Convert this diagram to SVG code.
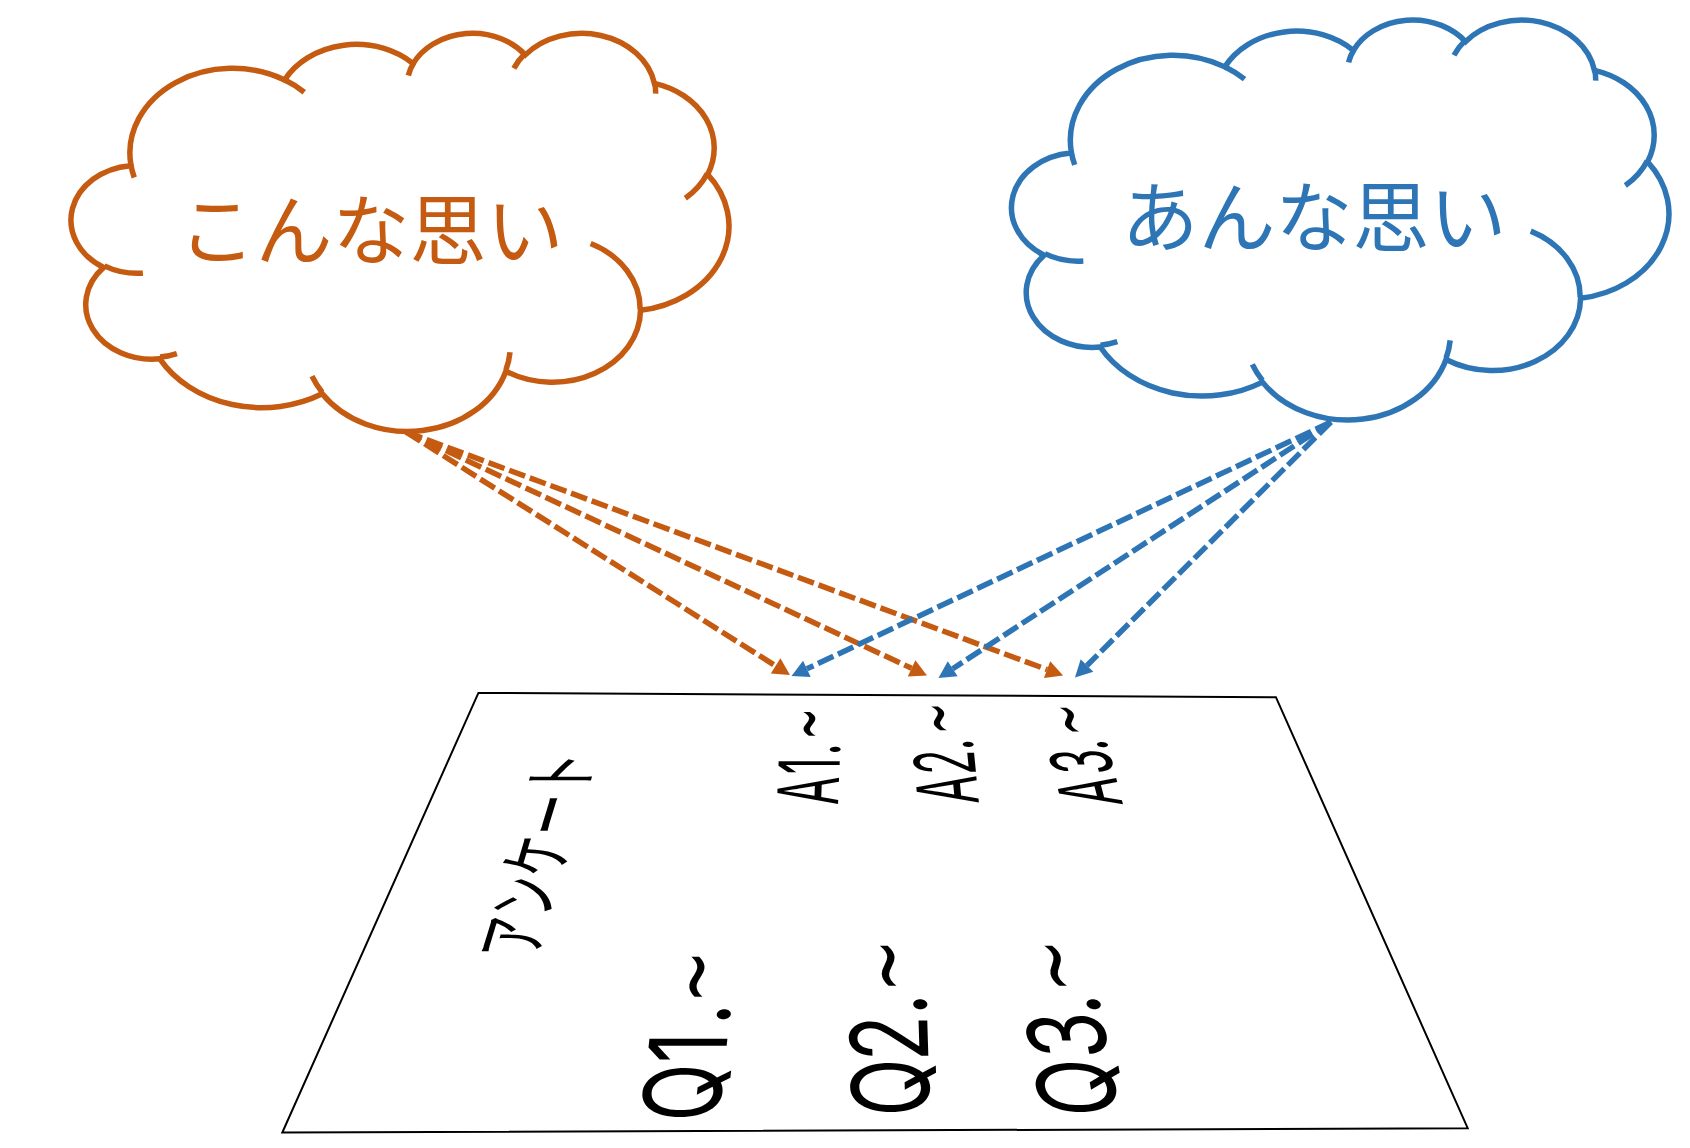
<svg xmlns="http://www.w3.org/2000/svg" width="1690" height="1148" viewBox="0 0 1690 1148">
<style>
  .outline { fill: #FFFFFF; stroke-width: 5.5; vector-effect: non-scaling-stroke; stroke-linejoin: miter; }
  .inner { fill: none; stroke-width: 5.5; vector-effect: non-scaling-stroke; stroke-linecap: butt; }
  .orange .outline, .orange .inner { stroke: #C55A11; }
  .blue .outline, .blue .inner { stroke: #2E75B6; }
  .cloudtext { font-family: "Noto Sans CJK JP", "Noto Sans", sans-serif; font-size: 77px; text-anchor: middle; }
  .orange .cloudtext { fill: #C55A11; }
  .blue .cloudtext { fill: #2E75B6; }
  .conn { fill: none; stroke-width: 5.5; stroke-dasharray: 17 5; stroke-linecap: butt; }
  .conn-o { stroke: #C55A11; marker-end: url(#arrO); }
  .conn-b { stroke: #2E75B6; marker-end: url(#arrB); }
  .lbl { font-family: Inter, "Noto Sans", "Noto Sans CJK JP", sans-serif; fill: #000000; text-anchor: middle; }
  .tilde { font-family: "DejaVu Sans", sans-serif; }
  .kana { font-family: "Noto Sans CJK JP", sans-serif; fill: #000000; }
</style>
<defs>
  <marker id="arrO" markerUnits="userSpaceOnUse" viewBox="0 0 17 18" markerWidth="17" markerHeight="18" refX="0" refY="9" orient="auto" overflow="visible">
    <path d="M0,0 L17,9 L0,18 Z" fill="#C55A11"/>
  </marker>
  <marker id="arrB" markerUnits="userSpaceOnUse" viewBox="0 0 17 18" markerWidth="17" markerHeight="18" refX="0" refY="9" orient="auto" overflow="visible">
    <path d="M0,0 L17,9 L0,18 Z" fill="#2E75B6"/>
  </marker>
</defs>

<g id="sheet">
  <polygon points="478.4,692.9 1275.9,697.2 1467.7,1128.2 282.3,1132.6" fill="#FFFFFF" stroke="#000000" stroke-width="2"/>
</g>

<g id="cloud-konna" class="orange">
  <g transform="translate(71.5,32) scale(0.015212,0.009214)">
    <path class="outline" d="M3900,14370 A6753,9190 0 0 1 14005,5202 A5333,7267 0 0 1 22456,3432 A4365,5945 0 0 1 29833,2481 A4857,6595 0 0 1 38318,5576 A5333,7273 0 0 1 41819,15460 A6775,9220 0 0 1 37405,30204 A5785,7867 0 0 1 28556,36814 A6752,9215 0 0 1 16481,39265 A7720,10543 0 0 1 5805,35471 A4360,5918 0 0 1 2114,25549 A4345,5945 0 0 1 3864,14505 Z"/>
    <path class="inner" d="M4693,26177 A4345,5945 0 0 1 2160,25380 M6928,34899 A4360,5918 0 0 1 5820,35281 M16478,39090 A6752,9215 0 0 1 15810,37350 M28827,34751 A6752,9215 0 0 1 28560,36660 M34129,22954 A5785,7867 0 0 1 37380,30090 M41798,15354 A5333,7273 0 0 1 40350,18030 M38324,5426 A4857,6595 0 0 1 38400,6690 M29078,3952 A4857,6595 0 0 1 29820,2340 M22141,4720 A4365,5945 0 0 1 22500,3330 M14000,5192 A6753,9190 0 0 1 15300,6540 M4127,15789 A6753,9190 0 0 1 3900,14370"/>
  </g>
  <text class="cloudtext" x="371" y="259">こんな思い</text>
</g>

<g id="cloud-anna" class="blue">
  <g transform="translate(1012,18.7) scale(0.0152,0.009256)">
    <path class="outline" d="M3900,14370 A6753,9190 0 0 1 14005,5202 A5333,7267 0 0 1 22456,3432 A4365,5945 0 0 1 29833,2481 A4857,6595 0 0 1 38318,5576 A5333,7273 0 0 1 41819,15460 A6775,9220 0 0 1 37405,30204 A5785,7867 0 0 1 28556,36814 A6752,9215 0 0 1 16481,39265 A7720,10543 0 0 1 5805,35471 A4360,5918 0 0 1 2114,25549 A4345,5945 0 0 1 3864,14505 Z"/>
    <path class="inner" d="M4693,26177 A4345,5945 0 0 1 2160,25380 M6928,34899 A4360,5918 0 0 1 5820,35281 M16478,39090 A6752,9215 0 0 1 15810,37350 M28827,34751 A6752,9215 0 0 1 28560,36660 M34129,22954 A5785,7867 0 0 1 37380,30090 M41798,15354 A5333,7273 0 0 1 40350,18030 M38324,5426 A4857,6595 0 0 1 38400,6690 M29078,3952 A4857,6595 0 0 1 29820,2340 M22141,4720 A4365,5945 0 0 1 22500,3330 M14000,5192 A6753,9190 0 0 1 15300,6540 M4127,15789 A6753,9190 0 0 1 3900,14370"/>
  </g>
  <text class="cloudtext" x="1314" y="246">あんな思い</text>
</g>

<g id="label-enquete">
  <text class="kana" font-size="41" transform="matrix(0.30,-1,1.88,0,535.9,956.3)" x="0" y="0">アンケート</text>
</g>
<g id="label-a1">
  <text class="lbl" font-size="41" transform="matrix(0.04,-1,2.05,0,838,803.3)" x="12.5 37.5 54" y="0">A1.<tspan class="tilde" font-size="38" x="79.5" dy="-3.5">~</tspan></text>
</g>
<g id="label-a2">
  <text class="lbl" font-size="41" transform="matrix(-0.10,-1,2.05,0,979,803.3)" x="14 41 59" y="0">A2.<tspan class="tilde" font-size="38" x="85" dy="-3.5">~</tspan></text>
</g>
<g id="label-a3">
  <text class="lbl" font-size="41" transform="matrix(-0.26,-1,2.05,0,1123,804.5)" x="13.5 43 60" y="0">A3.<tspan class="tilde" font-size="38" x="85" dy="-3.5">~</tspan></text>
</g>
<g id="label-q1">
  <text class="lbl" font-size="76" transform="matrix(0.11,-1,1.41,0,718.7,1118)" x="25.5 70.5 103.8" y="0">Q1.<tspan class="tilde" font-size="64" x="141.3" dy="-6.5">~</tspan></text>
</g>
<g id="label-q2">
  <text class="lbl" font-size="76" transform="matrix(-0.03,-1,1.41,0,930,1113.3)" x="25.8 75 109.1" y="0">Q2.<tspan class="tilde" font-size="64" x="147.5" dy="-6.5">~</tspan></text>
</g>
<g id="label-q3">
  <text class="lbl" font-size="76" transform="matrix(-0.18,-1,1.41,0,1119.6,1113.3)" x="25.8 78.3 109.1" y="0">Q3.<tspan class="tilde" font-size="64" x="147.5" dy="-6.5">~</tspan></text>
</g>

<g id="connectors">
  <path class="conn conn-o" d="M406,432 L775.6,665.9"/>
  <path class="conn conn-o" d="M406,432 L911.6,668.3"/>
  <path class="conn conn-o" d="M406,432 L1047.1,669.6"/>
  <path class="conn conn-b" d="M1331,422 L806.9,668.8"/>
  <path class="conn conn-b" d="M1331,422 L952.7,668.7"/>
  <path class="conn conn-b" d="M1331,422 L1087,665.5"/>
</g>
</svg>
